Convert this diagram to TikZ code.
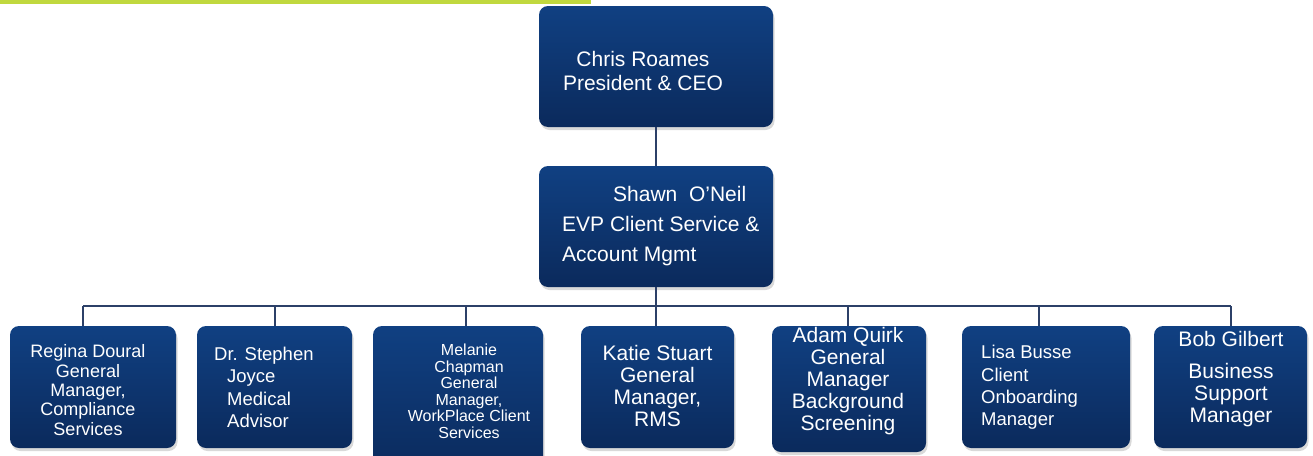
\documentclass[tikz,border=0pt]{standalone}
\usepackage{fontspec}
\setmainfont{Liberation Sans}
\usetikzlibrary{shadows,positioning}
\definecolor{boxtop}{RGB}{16,64,130}
\definecolor{boxbot}{RGB}{11,42,92}
\definecolor{lnkc}{RGB}{44,64,104}
\definecolor{grn}{RGB}{192,216,62}
\begin{document}
\begin{tikzpicture}[x=1pt, y=-1pt, bx/.style={rectangle, rounded corners=9pt, inner sep=0pt, outer sep=0pt, top color=boxtop, bottom color=boxbot, draw=none, drop shadow={shadow xshift=1.5pt, shadow yshift=-3pt, opacity=.3}}, tx/.style={text=white, inner sep=0pt}, lnk/.style={draw=lnkc, line width=2pt}]
\useasboundingbox (0,0) rectangle (1313,455);
\fill[grn] (0,0) rectangle (591,4);
\node[bx, minimum width=234pt, minimum height=121pt] (ceo) at (656,66.5) {};
\node[bx, minimum width=234pt, minimum height=121pt] (evp) at (656,226.5) {};
\node[bx, minimum width=166pt, minimum height=122pt] (b1) at (93,387) {};
\node[bx, minimum width=155pt, minimum height=122pt] (b2) at (274.5,387) {};
\node[bx, minimum width=170pt, minimum height=149pt] (b3) at (458,400.5) {};
\node[bx, minimum width=153pt, minimum height=122pt] (b4) at (657.5,387) {};
\node[bx, minimum width=154pt, minimum height=126pt] (b5) at (849,389) {};
\node[bx, minimum width=168pt, minimum height=122pt] (b6) at (1046,387) {};
\node[bx, minimum width=153pt, minimum height=122pt] (b7) at (1230.5,387) {};
\node[tx, align=center, font=\fontsize{21}{24}\selectfont] (ceo-t) at (643,71) {Chris Roames\\President \& CEO};
\node[tx, align=left, anchor=west, font=\fontsize{21}{30}\selectfont] (evp-t) at (562,226) {\hspace{51pt}Shawn\ \ O’Neil\\EVP Client Service \&\\Account Mgmt};
\node[tx, align=center, font=\fontsize{18}{19.3}\selectfont] (b1-t) at (88,390) {Regina Doural\\General\\Manager,\\Compliance\\Services};
\node[tx, align=left, anchor=west, font=\fontsize{18.5}{22.3}\selectfont] (b2-t) at (214,387.5) {Dr. Stephen\\\hspace{13pt}Joyce\\\hspace{13pt}Medical\\\hspace{13pt}Advisor};
\node[tx, align=center, font=\fontsize{16}{16.5}\selectfont] (b3-t) at (469,391.5) {Melanie\\Chapman\\General\\Manager,\\WorkPlace Client\\Services};
\node[tx, align=center, font=\fontsize{21}{21.7}\selectfont] (b4-t) at (657.5,386) {Katie Stuart\\General\\Manager,\\RMS};
\node[tx, align=center, font=\fontsize{21}{22}\selectfont] (b5-t) at (848,381) {Adam Quirk\\General\\Manager\\Background\\Screening};
\node[tx, align=left, anchor=west, font=\fontsize{18.5}{22.3}\selectfont] (b6-t) at (981,387.5) {Lisa Busse\\Client\\Onboarding\\Manager};
\node[tx, align=center, font=\fontsize{21}{22}\selectfont] (b7-t) at (1231,379) {Bob Gilbert\\[10pt]Business\\Support\\Manager};
\coordinate (d1) at (83,306);
\coordinate (d2) at (274.5,306);
\coordinate (d3) at (466,306);
\coordinate (d4) at (656,306);
\coordinate (d5) at (848,306);
\coordinate (d6) at (1039,306);
\coordinate (d7) at (1231,306);
\draw[lnk] (ceo) -- (evp);
\draw[lnk] (evp) -- (d4);
\draw[lnk] (d1) -- (d7);
\foreach \i in {1,...,7} {\draw[lnk] (d\i) -- (d\i |- b\i.north);}
\end{tikzpicture}
\end{document}
